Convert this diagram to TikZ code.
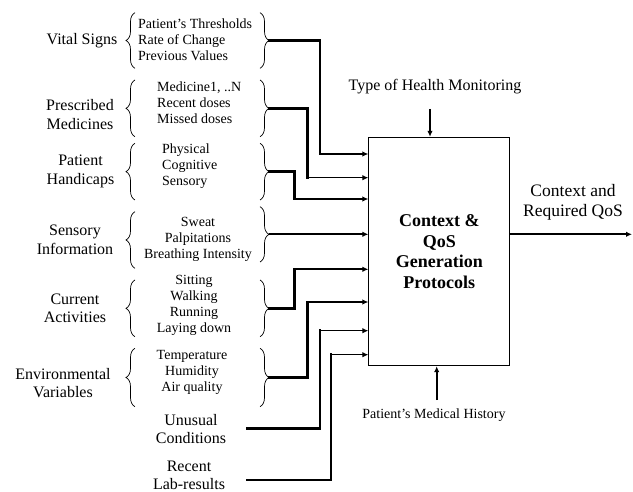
\documentclass[tikz,border=0pt]{standalone}
\usepackage{fontspec}
\setmainfont{Liberation Serif}
\usetikzlibrary{arrows.meta,decorations.pathreplacing}

\begin{document}
\begin{tikzpicture}[x=1pt,y=-1pt,
  lbl/.style={align=center,inner sep=0pt,font=\fontsize{16}{18.5}\selectfont},
  lst/.style={inner sep=0pt,font=\fontsize{14}{16}\selectfont},
  curly/.style={decorate,decoration={brace,amplitude=9pt},line width=0.7pt},
  bus/.style={line width=2.7pt,line cap=rect},
  feed/.style={line width=1.6pt,-{Latex[length=6pt,width=5.5pt]}}]
\useasboundingbox (0,0) rectangle (633,492);

% protocol block
\node[draw,line width=0.9pt,minimum width=141pt,minimum height=228.5pt,align=center,
  font=\fontsize{18}{20.6}\selectfont\bfseries] (gen) at (439.3,251.5)
  {Context \&\\QoS\\Generation\\Protocols};

% top and bottom inputs
\node[lbl] (thm) at (435,87) {Type of Health Monitoring};
\coordinate (thmA) at (430,109);
\draw[feed] (thmA) -- (gen.north -| thmA);
\node[lst] (pmh) at (434,415) {Patient's Medical History};
\coordinate (pmhA) at (436.7,400);
\draw[feed] (pmhA) -- (gen.south -| pmhA);

% output
\node[lbl,font=\fontsize{17.5}{20}\selectfont] (ctx) at (573,202) {Context and\\Required QoS};
\coordinate (outE) at (632,234.3);
\draw[feed,line width=2.3pt] (gen.east |- outE) -- (outE);

% vital signs
\node[lbl] (vs) at (82,41) {Vital Signs};
\draw[curly] (135,68.3) -- (135,12.7);
\node[lst,anchor=west,align=left] (vsL) at (138,40) {Patient's Thresholds\\Rate of Change\\Previous Values};
\draw[curly] (260,12.7) -- (260,68.3);
\coordinate (vsR) at (269,40.5);
\coordinate (vsK) at (320,154);
\draw[bus] (vsR) -| (vsK);
\draw[feed] (vsK) -- (gen.west |- vsK);

% prescribed medicines
\node[lbl] (pm) at (80,114.5) {Prescribed\\Medicines};
\draw[curly] (135,136.7) -- (135,80);
\node[lst,anchor=west,align=left] (pmL) at (157,102.7) {Medicine1, ..N\\Recent doses\\Missed doses};
\draw[curly] (260,80) -- (260,136.7);
\coordinate (pmR) at (269,108.3);
\coordinate (pmK) at (307.7,177.7);
\draw[bus] (pmR) -| (pmK);
\draw[feed] (pmK) -- (gen.west |- pmK);

% patient handicaps
\node[lbl] (ph) at (80.5,171.5) {Patient\\Handicaps};
\draw[curly] (135,200) -- (135,143.3);
\node[lst,anchor=west,align=left] (phL) at (162,166.2) {Physical\\Cognitive\\Sensory};
\draw[curly] (260,143.3) -- (260,200);
\coordinate (phR) at (269,171.7);
\coordinate (phK) at (294.5,199);
\draw[bus] (phR) -| (phK);
\draw[feed] (phK) -- (gen.west |- phK);

% sensory information
\node[lbl] (si) at (75,240) {Sensory\\Information};
\draw[curly] (135,268.3) -- (135,211.7);
\node[lst,align=center] (siL) at (198,239.5) {Sweat\\Palpitations\\Breathing Intensity};
\draw[curly] (260,206.7) -- (260,262);
\coordinate (siR) at (269,234.3);
\draw[feed] (siR) -- (gen.west |- siR);

% current activities
\node[lbl] (ca) at (75,308.5) {Current\\Activities};
\draw[curly] (135,336.7) -- (135,280);
\node[lst,align=center] (caL) at (194,305.3) {Sitting\\Walking\\Running\\Laying down};
\draw[curly] (260,280) -- (260,336.7);
\coordinate (caR) at (269,308.3);
\coordinate (caK) at (294.5,269.3);
\draw[bus] (caR) -| (caK);
\draw[feed] (caK) -- (gen.west |- caK);

% environmental variables
\node[lbl] (ev) at (63,383) {Environmental\\Variables};
\draw[curly] (135,406.7) -- (135,348.3);
\node[lst,align=center] (evL) at (192,372) {Temperature\\Humidity\\Air quality};
\draw[curly] (260,348.3) -- (260,406.7);
\coordinate (evR) at (269,377.5);
\coordinate (evK) at (307.7,302);
\draw[bus] (evR) -| (evK);
\draw[feed] (evK) -- (gen.west |- evK);

% unusual conditions
\node[lbl] (uc) at (191,429) {Unusual\\Conditions};
\coordinate (ucR) at (247,428.3);
\coordinate (ucK) at (320,330.7);
\draw[bus] (ucR) -| (ucK);
\draw[feed] (ucK) -- (gen.west |- ucK);

% recent lab results
\node[lbl,font=\fontsize{16}{17.5}\selectfont] (rl) at (189,475.5) {Recent\\Lab-results};
\coordinate (rlR) at (247,480);
\coordinate (rlK) at (331,354.7);
\draw[bus] (rlR) -| (rlK);
\draw[feed] (rlK) -- (gen.west |- rlK);
\end{tikzpicture}
\end{document}
